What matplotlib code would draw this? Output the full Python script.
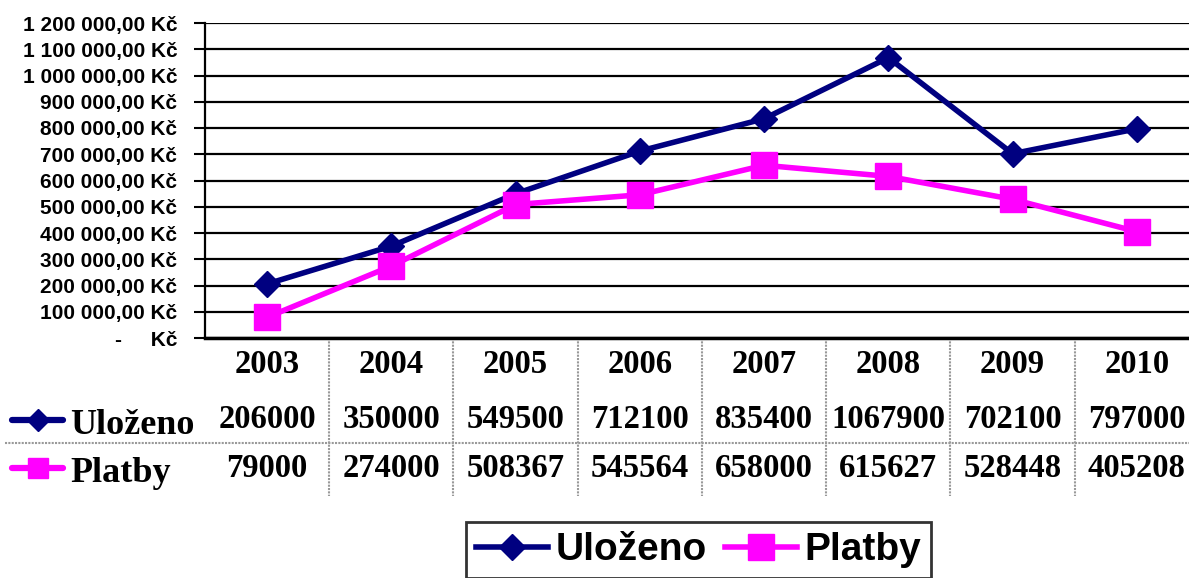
import matplotlib.pyplot as plt
import numpy as np
from matplotlib.lines import Line2D

# data
years = ['2003', '2004', '2005', '2006', '2007', '2008', '2009', '2010']
ulozeno = [206000, 350000, 549500, 712100, 835400, 1067900, 702100, 797000]
platby = [79000, 274000, 508367, 545564, 658000, 615627, 528448, 405208]

navy = '#000080'
magenta = '#FF00FF'
serif = 'Liberation Serif'
sans = 'Liberation Sans'

fig = plt.figure(figsize=(11.89, 5.78), dpi=100)
ax = fig.add_axes([205/1189, 1-338/578, 994/1189, 315/578])

x = np.arange(len(years))
ax.plot(x, ulozeno, color=navy, lw=4, marker='D', ms=13.5, label='Uloženo', zorder=3)
ax.plot(x, platby, color=magenta, lw=4, marker='s', ms=18.5, label='Platby', zorder=4)

ax.set_xlim(-0.5, len(years) - 0.5)
ax.set_ylim(0, 1200000)
yt = np.arange(0, 1200001, 100000)
ax.set_yticks(yt)


def kc(v):
    if v == 0:
        return '-     Kč'
    return f'{v:,.2f}'.replace(',', ' ').replace('.', ',') + ' Kč'


ax.set_yticklabels([kc(v) for v in yt], fontfamily=sans, fontweight='bold', fontsize=15)
ax.tick_params(axis='y', length=8, width=1.5, pad=12)
ax.set_xticks([])
ax.grid(axis='y', color='black', lw=1.6)
for s in ['top', 'right']:
    ax.spines[s].set_visible(False)
ax.spines['left'].set_linewidth(1.6)
ax.spines['bottom'].set_linewidth(2.5)

# data table under the plot
tr = ax.get_xaxis_transform()
for i, yr in enumerate(years):
    ax.text(i, -0.085, yr, transform=tr, ha='center', va='center',
            fontfamily=serif, fontweight='bold', fontsize=23.5, clip_on=False)
    ax.text(i, -0.26, str(ulozeno[i]), transform=tr, ha='center', va='center',
            fontfamily=serif, fontweight='bold', fontsize=23.5, clip_on=False)
    ax.text(i, -0.413, str(platby[i]), transform=tr, ha='center', va='center',
            fontfamily=serif, fontweight='bold', fontsize=23.5, clip_on=False)
for i in range(len(years) - 1):
    ax.plot([i + 0.5, i + 0.5], [0, -0.5], transform=tr, color='#999999',
            lw=1.5, ls=(0, (1, 0.6)), clip_on=False)
fig.add_artist(Line2D([5/1189, 1], [1-443/578, 1-443/578], color='#999999',
                      lw=1.5, ls=(0, (1, 0.6))))

# row keys
for yy, col, mk, ms, name in [(420, navy, 'D', 11, 'Uloženo'), (468, magenta, 's', 15, 'Platby')]:
    fy = 1 - yy/578
    fig.add_artist(Line2D([12/1189, 63/1189], [fy, fy], color=col, lw=4.5,
                          solid_capstyle='round'))
    fig.add_artist(Line2D([38/1189], [fy], color=col, marker=mk, ms=ms, lw=0))
    fig.text(70/1189, fy - 0.01, name, ha='left', va='center',
             fontfamily=serif, fontweight='bold', fontsize=26)

leg = fig.legend(loc='upper left', bbox_to_anchor=(466/1189, 1-522/578),
                 prop={'family': sans, 'weight': 'bold', 'size': 28},
                 ncol=2, frameon=True, fancybox=False, edgecolor='black',
                 handlelength=1.85, handletextpad=0.2, columnspacing=0.45,
                 borderpad=0.26, borderaxespad=0)
leg.get_frame().set_linewidth(2)

fig.savefig('out.png', dpi=100)
